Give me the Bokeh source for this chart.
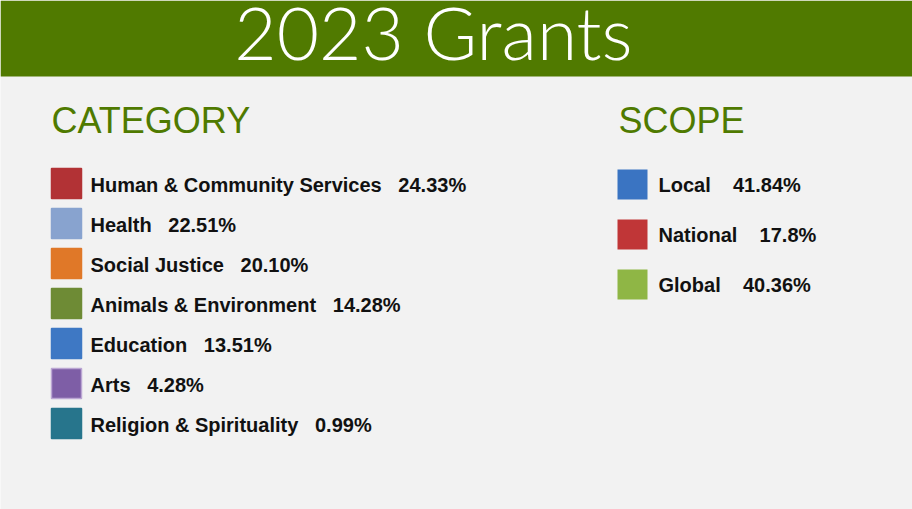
"""2023 Grants summary: category and scope breakdown as a swatch legend."""

import numpy as np
from bokeh.plotting import figure
from bokeh.models import ColumnDataSource, Range1d
from bokeh.core.properties import value
from bokeh.embed import file_html
from bokeh.resources import INLINE


# Data
title_text = "2023 Grants"

category_names = [
    "Human & Community Services",
    "Health",
    "Social Justice",
    "Animals & Environment",
    "Education",
    "Arts",
    "Religion & Spirituality",
]
category_pct = [24.33, 22.51, 20.10, 14.28, 13.51, 4.28, 0.99]
category_colors = ["#b23235", "#88a3cf", "#e07828", "#6e8b35",
                   "#3e78c4", "#7e5ea6", "#27758c"]
category_borders = ["#b23235", "#88a3cf", "#e07828", "#6e8b35",
                    "#3e78c4", "#bba6d3", "#27758c"]

scope_names = ["Local", "National", "Global"]
scope_pct = [41.84, 17.8, 40.36]
scope_colors = ["#3a74c2", "#c03637", "#8fb645"]

# Styling
WIDTH = 912
HEIGHT = 509
HEADER_GREEN = "#507a00"
HEAD_TEXT_GREEN = "#4f7a00"
BG = "#f2f2f2"
LABEL_FONT = value("Liberation Sans")
LABEL_SIZE = "20px"
NBSP = "\u00a0"

p = figure(
    width=WIDTH, height=HEIGHT,
    x_range=Range1d(0, WIDTH), y_range=Range1d(HEIGHT, 0),
    output_backend="svg", toolbar_location=None,
    min_border=0, tools="",
)
p.axis.visible = False
p.grid.visible = False
p.outline_line_color = None
p.background_fill_color = BG
p.border_fill_color = BG

# Header band
p.quad(left=[0], right=[WIDTH], top=[0], bottom=[76],
       fill_color=HEADER_GREEN, line_color=None)
p.text(x=[433], y=[31], text=[title_text], text_color="white",
       text_font=value("Lato Light"), text_font_size="73px",
       text_align="center", text_baseline="alphabetic")

# Section headings
p.text(x=[51, 618], y=[120, 120], text=["CATEGORY", "SCOPE"],
       text_color=HEAD_TEXT_GREEN, text_font=LABEL_FONT,
       text_font_size="36px", text_baseline="alphabetic")

# Category swatches
n_cat = len(category_names)
cat_y = 183 + 40 * np.arange(n_cat)
cat_src = ColumnDataSource(data=dict(
    x=[66] * n_cat,
    y=cat_y,
    ty=cat_y + 1,
    tx=[90] * n_cat,
    fill=category_colors,
    border=category_borders,
    label=[f"{n}{NBSP * 3}{v:.2f}%" for n, v in zip(category_names, category_pct)],
))
p.rect(x="x", y="y", width=30, height=30, source=cat_src,
       fill_color="fill", line_color="border", line_width=1.5)
p.text(x="tx", y="ty", text="label", source=cat_src, text_color="#111111",
       text_font=LABEL_FONT, text_font_style="bold", text_font_size=LABEL_SIZE,
       text_baseline="alphabetic")

# Scope swatches
n_scope = len(scope_names)
scope_y = 184 + 50 * np.arange(n_scope)
scope_src = ColumnDataSource(data=dict(
    x=[632] * n_scope,
    y=scope_y,
    ty=scope_y,
    tx=[658] * n_scope,
    fill=scope_colors,
    label=[f"{n}{NBSP * 4}{v:g}%" for n, v in zip(scope_names, scope_pct)],
))
p.rect(x="x", y="y", width=30, height=30, source=scope_src,
       fill_color="fill", line_color=None)
p.text(x="tx", y="ty", text="label", source=scope_src, text_color="#111111",
       text_font=LABEL_FONT, text_font_style="bold", text_font_size=LABEL_SIZE,
       text_baseline="alphabetic")

open("out.html", "w").write(file_html(p, INLINE))
